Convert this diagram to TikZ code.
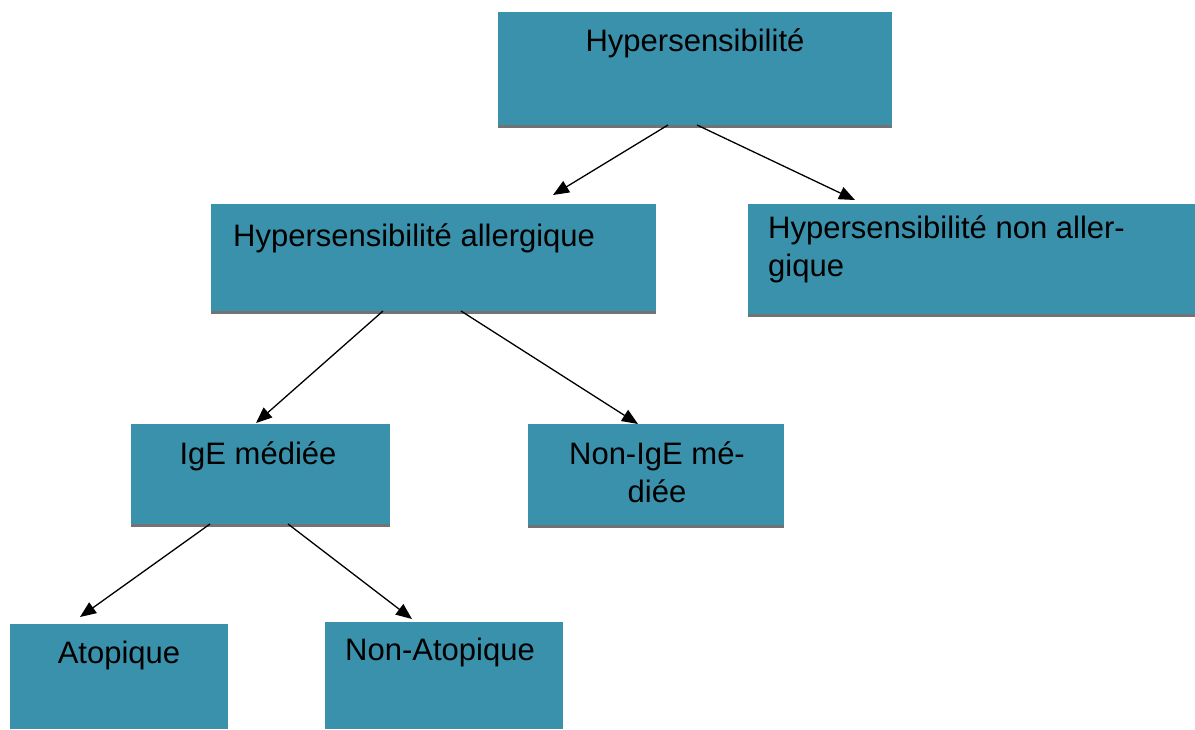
\documentclass[tikz,border=0pt]{standalone}
\usepackage{fontspec}
\setmainfont{Liberation Sans}
\usetikzlibrary{arrows.meta,calc}
\definecolor{boxfill}{RGB}{58,145,172}
\definecolor{shadowc}{RGB}{115,115,115}
\tikzset{
  box/.style={rectangle, fill=boxfill, draw=none, anchor=north west, inner sep=0pt},
  txt/.style={font=\fontsize{31}{38}\selectfont, inner sep=0pt, text=black},
  conn/.style={line width=1.3pt, -{Triangle[length=16pt,width=13pt]}},
  shline/.style={line width=3pt, shadowc}
}
\begin{document}
\begin{tikzpicture}[x=1pt,y=-1pt]
\useasboundingbox (0,0) rectangle (1195,729);
% boxes
\node[box, minimum width=394pt, minimum height=113pt] (h) at (498,12) {};
\node[box, minimum width=445pt, minimum height=107pt] (ha) at (211,204) {};
\node[box, minimum width=447pt, minimum height=110pt] (hn) at (748,204) {};
\node[box, minimum width=259pt, minimum height=100pt] (ige) at (131,424) {};
\node[box, minimum width=256pt, minimum height=101pt] (nige) at (528,424) {};
\node[box, minimum width=218pt, minimum height=105pt] (ato) at (10,624) {};
\node[box, minimum width=238pt, minimum height=107pt] (nato) at (325,622) {};
% bottom shadow stripes
\draw[shline] ($(h.south west)+(0,1.5)$) -- ($(h.south east)+(0,1.5)$);
\draw[shline] ($(ha.south west)+(0,1.5)$) -- ($(ha.south east)+(0,1.5)$);
\draw[shline] ($(hn.south west)+(0,1.5)$) -- ($(hn.south east)+(0,1.5)$);
\draw[shline] ($(ige.south west)+(0,1.5)$) -- ($(ige.south east)+(0,1.5)$);
\draw[shline] ($(nige.south west)+(0,1.5)$) -- ($(nige.south east)+(0,1.5)$);
% texts
\node[txt] (th) at (695,43) {Hypersensibilité};
\node[txt, anchor=west] (tha) at (233,238) {Hypersensibilité allergique};
\node[txt, anchor=north west, align=left] (thn) at (768,215) {Hypersensibilité non aller-\\gique};
\node[txt] (tige) at (258,456) {IgE médiée};
\node[txt, align=center, anchor=north] (tnige) at (657,441) {Non-IgE mé-\\diée};
\node[txt] (tato) at (119,655) {Atopique};
\node[txt] (tnato) at (440,652) {Non-Atopique};
% connector endpoints
\coordinate (a1s) at (668,125);
\coordinate (a1e) at (553,195);
\coordinate (a2s) at (697,125);
\coordinate (a2e) at (855,200);
\coordinate (a3s) at (383,311);
\coordinate (a3e) at (256,423);
\coordinate (a4s) at (461,311);
\coordinate (a4e) at (638,424);
\coordinate (a5s) at (210,524);
\coordinate (a5e) at (80,617);
\coordinate (a6s) at (288,524);
\coordinate (a6e) at (412,619);
\draw[conn] (a1s) -- (a1e);
\draw[conn] (a2s) -- (a2e);
\draw[conn] (a3s) -- (a3e);
\draw[conn] (a4s) -- (a4e);
\draw[conn] (a5s) -- (a5e);
\draw[conn] (a6s) -- (a6e);
\end{tikzpicture}
\end{document}
